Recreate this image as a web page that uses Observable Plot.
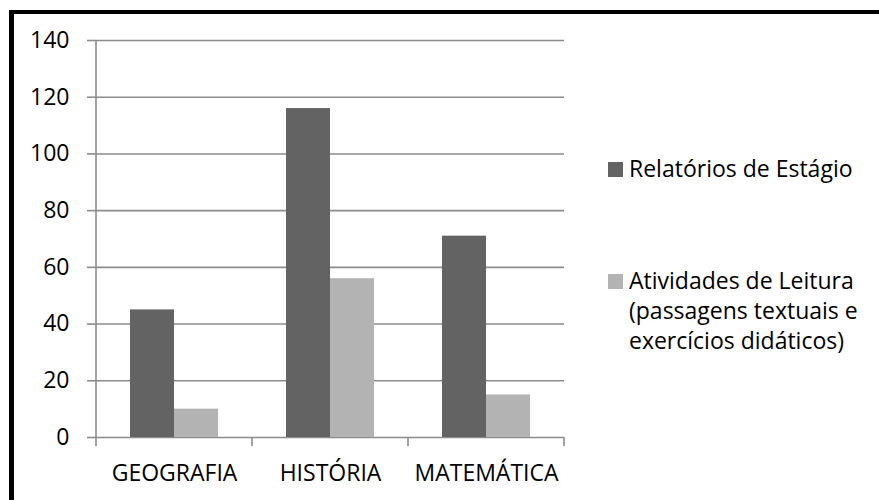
<!DOCTYPE html>
<html>
<head>
<meta charset="utf-8">
<script src="https://cdn.jsdelivr.net/npm/d3@7"></script>
<script src="https://cdn.jsdelivr.net/npm/@observablehq/plot@0.6"></script>
<style>
  html, body { margin: 0; padding: 0; background: #fff; }
  #wrap { position: relative; width: 879px; height: 500px; overflow: hidden; font-family: "Open Sans", sans-serif; }
  #frame { position: absolute; left: 9px; top: 10px; width: 900px; height: 520px; border-left: 5px solid #000; border-top: 4px solid #000; box-sizing: border-box; }
  #chart { position: absolute; left: 0; top: 0; }
  .lg-sw { position: absolute; width: 15px; height: 15px; }
  .lg-tx { position: absolute; font-size: 23px; line-height: 30px; white-space: pre; color: #000; }
</style>
</head>
<body>
<div id="wrap">
  <div id="frame"></div>
  <div id="chart"></div>
  <div id="legend"></div>
</div>
<script>
const categories = ["GEOGRAFIA", "HISTÓRIA", "MATEMÁTICA"];
const series = ["Relatórios de Estágio", "Atividades de Leitura\n(passagens textuais e\nexercícios didáticos)"];
const relatorios = [45, 116, 71];
const atividades = [10, 56, 15];
const yTicks = [0, 20, 40, 60, 80, 100, 120, 140];
const colors = ["#636363", "#b3b3b3"];

const data = categories.flatMap((c, i) => [
  {cat: c, serie: series[0], value: relatorios[i]},
  {cat: c, serie: series[1], value: atividades[i]}
]);

const gridColor = "#8c8c8c";

const chart = Plot.plot({
  width: 879,
  height: 500,
  marginLeft: 95,
  marginRight: 314,
  marginTop: 40,
  marginBottom: 63,
  style: {fontFamily: "Open Sans", fontSize: "23px", background: "transparent", color: "#000"},
  fx: {domain: categories, padding: 0, label: null},
  x: {domain: series, paddingInner: 0, paddingOuter: 0.74, axis: null},
  y: {domain: [0, 140], label: null},
  color: {domain: series, range: colors},
  marks: [
    Plot.ruleY(yTicks, {stroke: gridColor, strokeWidth: 1.6}),
    Plot.barY(data, {fx: "cat", x: "serie", y: "value", fill: "serie"}),
    Plot.axisY(yTicks, {tickSize: 9, tickPadding: 18, stroke: gridColor, strokeWidth: 1.6, fill: "#000", label: null}),
    Plot.axisFx({anchor: "bottom", tickSize: 0, tickPadding: 27, fill: "#000", label: null})
  ]
});
document.getElementById("chart").appendChild(chart);

// axis line and category boundary ticks, from the plot's own scales
const fx = chart.scale("fx");
const y = chart.scale("y");
const svg = d3.select(chart);
const y0 = y.apply(0);
const yTop = y.apply(140);
const bw = fx.bandwidth;
const g = svg.append("g").attr("stroke", gridColor).attr("stroke-width", 1.6);
const x0 = fx.apply(categories[0]);
g.append("line").attr("x1", x0).attr("x2", x0).attr("y1", yTop).attr("y2", y0 + 9);
categories.forEach(c => {
  const xe = fx.apply(c) + bw;
  g.append("line").attr("x1", xe).attr("x2", xe).attr("y1", y0).attr("y2", y0 + 9);
});

// legend
const legend = document.getElementById("legend");
const rows = [{top: 153, sw: 162}, {top: 265, sw: 273.5}];
series.forEach((s, i) => {
  const sw = document.createElement("div");
  sw.className = "lg-sw";
  sw.style.background = colors[i];
  sw.style.left = "608px";
  sw.style.top = rows[i].sw + "px";
  legend.appendChild(sw);
  const tx = document.createElement("div");
  tx.className = "lg-tx";
  tx.style.left = "629px";
  tx.style.top = rows[i].top + "px";
  tx.textContent = s;
  legend.appendChild(tx);
});
</script>
</body>
</html>
